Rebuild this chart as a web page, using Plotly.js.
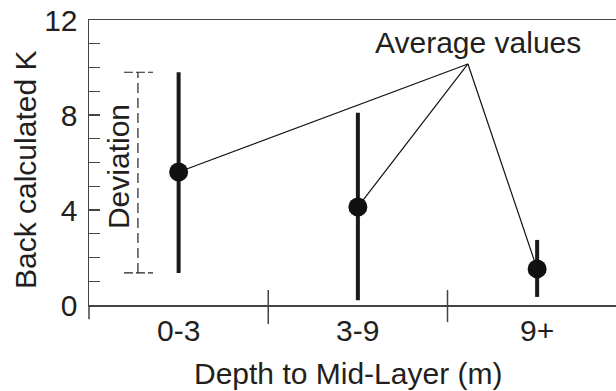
<!DOCTYPE html>
<html>
<head>
<meta charset="utf-8">
<script src="https://cdn.plot.ly/plotly-3.0.1.min.js"></script>
<style>html,body{margin:0;padding:0;background:#fff;}#chart{width:616px;height:391px;}</style>
</head>
<body>
<div id="chart"></div>
<script>
// Data
const categories = ['0-3', '3-9', '9+'];
const avgK = [5.6, 4.13, 1.52];
const maxK = [9.8, 8.1, 2.74];
const minK = [1.35, 0.2, 0.34];
const yTickVals = [0,1,2,3,4,5,6,7,8,9,10,11,12];
const yTickText = ['0','','','','4','','','','8','','','','12'];
// Annotation convergence point for "Average values" pointer lines
const pointerX = 1.614;
const pointerY = 10.15;

const catIdx = categories.map((c, i) => i);
const errPlus = avgK.map((v, i) => maxK[i] - v);
const errMinus = avgK.map((v, i) => v - minK[i]);

// pointer lines from the label to each mean
const lx = [], ly = [];
catIdx.forEach((i) => { lx.push(pointerX, i, null); ly.push(pointerY, avgK[i], null); });

const font = 'Liberation Sans, Arial, Helvetica, sans-serif';
const txt = '#231f20';
const fs = 30;

const traces = [
  {
    x: lx, y: ly, mode: 'lines', type: 'scatter',
    line: {color: '#111', width: 1.2}, hoverinfo: 'skip', showlegend: false
  },
  {
    x: catIdx, y: avgK, mode: 'markers', type: 'scatter',
    marker: {color: '#111', size: 19},
    error_y: {type: 'data', symmetric: false, array: errPlus, arrayminus: errMinus,
              thickness: 4, width: 0, color: '#1a1a1a'},
    showlegend: false
  }
];

const catLabels = categories.map((c, i) => ({
  text: c, xref: 'x', yref: 'paper', x: i, y: -0.088,
  showarrow: false, xanchor: 'center', yanchor: 'middle', font: {size: fs, color: txt}
}));

const devX = -0.227;
const layout = {
  width: 616, height: 391,
  margin: {l: 89, r: 0, t: 20, b: 86},
  paper_bgcolor: '#fff', plot_bgcolor: '#fff',
  font: {family: font, size: fs, color: txt},
  showlegend: false,
  xaxis: {
    range: [-0.5, 2.44], tickvals: catIdx, ticktext: categories, showticklabels: false,
    showgrid: false, zeroline: false, showline: true, mirror: true,
    linecolor: '#444', linewidth: 1.5, ticks: ''
  },
  yaxis: {
    range: [0, 12], tickvals: yTickVals, ticktext: yTickText,
    showgrid: false, zeroline: false, showline: true,
    linecolor: '#444', linewidth: 1.5, ticks: 'inside', ticklen: 11, tickwidth: 1.2, tickcolor: '#444',
    ticklabelstandoff: 4,
    tickfont: {family: font, size: fs, color: txt}
  },
  shapes: [
    // category separators
    {type: 'line', xref: 'x', yref: 'paper', x0: 0.5, x1: 0.5, y0: 0.053, y1: -0.067, line: {color: '#444', width: 1.5}},
    {type: 'line', xref: 'x', yref: 'paper', x0: 1.5, x1: 1.5, y0: 0.053, y1: -0.060, line: {color: '#444', width: 1.5}},
    // left axis extension below
    {type: 'line', xref: 'paper', yref: 'paper', x0: 0, x1: 0, y0: 0, y1: -0.05, line: {color: '#444', width: 1.5}},
    // deviation bracket
    {type: 'line', xref: 'x', yref: 'y', x0: devX, x1: devX, y0: minK[0], y1: maxK[0], line: {color: '#222', width: 1.2, dash: '10px,5px'}},
    {type: 'line', xref: 'x', yref: 'y', x0: -0.305, x1: -0.143, y0: maxK[0], y1: maxK[0], line: {color: '#222', width: 1.2, dash: '9px,3px'}},
    {type: 'line', xref: 'x', yref: 'y', x0: -0.305, x1: -0.143, y0: minK[0], y1: minK[0], line: {color: '#222', width: 1.2, dash: '9px,3px'}}
  ],
  annotations: catLabels.concat([
    {text: 'Back calculated K', xref: 'paper', yref: 'paper', x: -0.1195, y: 0.4737,
     textangle: -90, showarrow: false, xanchor: 'center', yanchor: 'middle', font: {size: fs, color: txt}},
    {text: 'Depth to Mid-Layer (m)', xref: 'paper', yref: 'paper', x: 0.4924, y: -0.242,
     showarrow: false, xanchor: 'center', yanchor: 'middle', font: {size: fs, color: txt}},
    {text: 'Deviation', xref: 'x', yref: 'y', x: -0.338, y: 5.81,
     textangle: -90, showarrow: false, xanchor: 'center', yanchor: 'middle', font: {size: fs, color: txt}},
    {text: 'Average values', xref: 'x', yref: 'y', x: 1.67, y: 11.07,
     showarrow: false, xanchor: 'center', yanchor: 'middle', font: {size: fs, color: txt}}
  ])
};

Plotly.newPlot('chart', traces, layout, {displayModeBar: false, staticPlot: true});
</script>
</body>
</html>
